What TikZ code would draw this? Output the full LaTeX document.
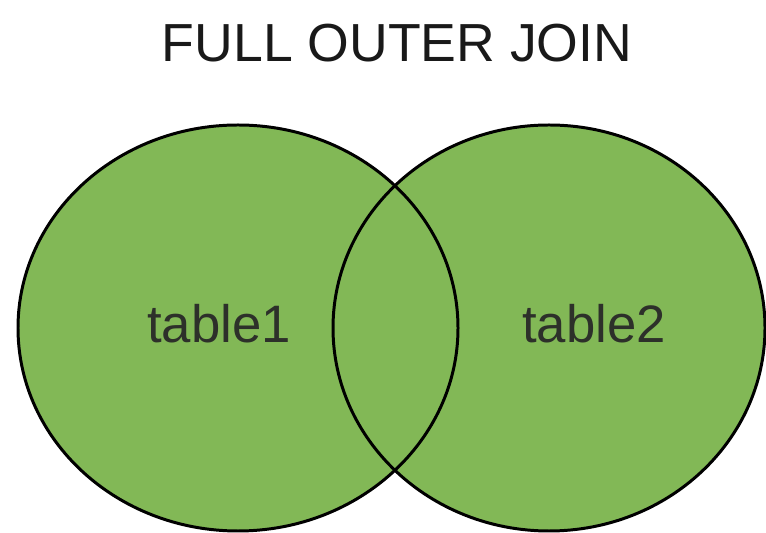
\documentclass[tikz,border=0pt]{standalone}
\usepackage{fontspec}
\setmainfont{Liberation Sans}
\usepackage{xcolor}
\usepackage{tikz}
\usetikzlibrary{positioning}

\definecolor{setgreen}{RGB}{130,184,86}
\definecolor{labelgray}{RGB}{45,48,42}

\begin{document}
\begin{tikzpicture}[
    x=0.02cm, y=0.02cm,
    setfill/.style={fill=setgreen},
    setline/.style={draw=black, line width=1.7pt},
    titletext/.style={anchor=base, inner sep=0pt, text=black!90, font=\fontsize{30.5}{36}\selectfont},
    tablelabel/.style={anchor=base, inner sep=0pt, text=labelgray, font=\fontsize{30}{36}\selectfont}
]
\useasboundingbox (0,0) rectangle (766,533);

% the two sets
\fill[setfill] (238,205) ellipse [x radius=220, y radius=203];
\fill[setfill] (549,205) ellipse [x radius=216, y radius=203];
\draw[setline] (238,205) ellipse [x radius=220, y radius=203];
\draw[setline] (549,205) ellipse [x radius=216, y radius=203];

\node[titletext] (title) at (397,471) {FULL OUTER JOIN};
\node[tablelabel] (table1) at (219,190) {table1};
\node[tablelabel] (table2) at (594,190) {table2};

\end{tikzpicture}
\end{document}
